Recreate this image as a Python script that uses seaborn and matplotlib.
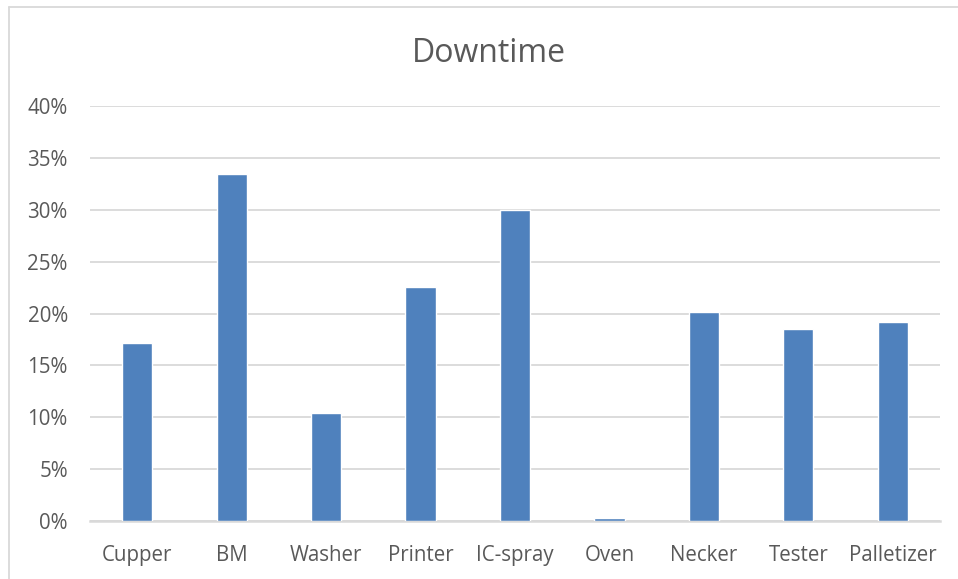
import matplotlib
matplotlib.use("Agg")
import matplotlib.pyplot as plt
from matplotlib.lines import Line2D
from matplotlib.ticker import PercentFormatter
import seaborn as sns
import pandas as pd

categories = ["Cupper", "BM", "Washer", "Printer", "IC-spray", "Oven",
              "Necker", "Tester", "Palletizer"]
downtime = [0.172, 0.334, 0.104, 0.226, 0.2995, 0.003, 0.201, 0.185, 0.192]
y_ticks = [0.0, 0.05, 0.10, 0.15, 0.20, 0.25, 0.30, 0.35, 0.40]

df = pd.DataFrame({"machine": categories, "downtime": downtime})

sns.set_theme(style="white")
plt.rcParams["font.family"] = ["Open Sans", "DejaVu Sans"]

W, H = 958, 579
fig = plt.figure(figsize=(W / 100, H / 100), dpi=100)
ax = fig.add_axes([90 / W, 1 - 521 / H, 850 / W, (521 - 106) / H])

sns.barplot(data=df, x="machine", y="downtime", color="#4F81BD",
            saturation=1, width=0.32, ax=ax, zorder=3)

ax.set_ylim(0, 0.4)
ax.set_xlim(-0.5, len(categories) - 0.5)
ax.set_yticks(y_ticks)
ax.yaxis.set_major_formatter(PercentFormatter(1.0, decimals=0))
ax.grid(axis="y", color="#D9D9D9", linewidth=1.3, zorder=0)
ax.set_axisbelow(True)
for side in ["top", "right", "left"]:
    ax.spines[side].set_visible(False)
ax.spines["bottom"].set_color("#D9D9D9")
ax.spines["bottom"].set_linewidth(1.8)
ax.spines["bottom"].set_zorder(2)
ax.set_xlabel("")
ax.set_ylabel("")
ax.tick_params(axis="both", length=0, labelsize=14.8, colors="#595959")
ax.tick_params(axis="x", pad=17)
ax.tick_params(axis="y", pad=16)

fig.text(489 / W, 1 - 54 / H, "Downtime", ha="center", va="center",
         fontsize=23, color="#595959")

# chart frame (top and left edges)
fig.add_artist(Line2D([9 / W, 1.0], [1 - 7 / H, 1 - 7 / H],
                      transform=fig.transFigure, color="#D9D9D9", linewidth=1.3))
fig.add_artist(Line2D([9 / W, 9 / W], [0.0, 1 - 7 / H],
                      transform=fig.transFigure, color="#D9D9D9", linewidth=1.3))

fig.savefig("out.png", dpi=100, facecolor="white")
